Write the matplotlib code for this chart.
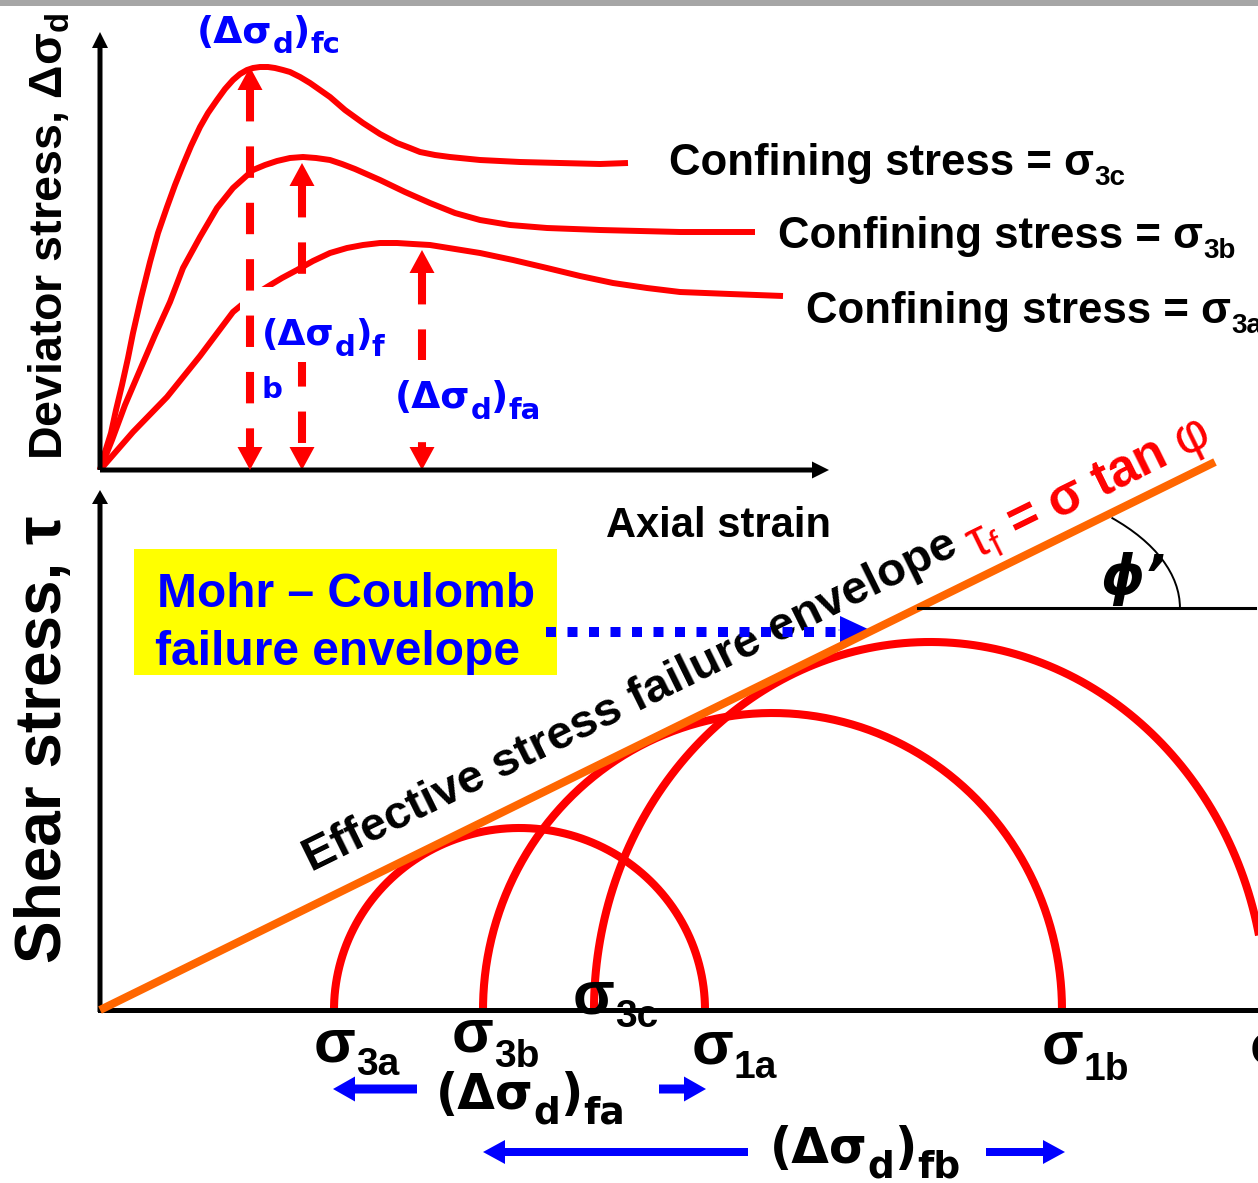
import numpy as np
import matplotlib.pyplot as plt
from matplotlib.patches import Rectangle, Arc

plt.rcParams['font.family'] = ['Liberation Sans', 'DejaVu Sans']
plt.rcParams['mathtext.fontset'] = 'custom'
plt.rcParams['mathtext.rm'] = 'Liberation Sans'
plt.rcParams['mathtext.bf'] = 'Liberation Sans:bold'
plt.rcParams['mathtext.it'] = 'Liberation Sans:italic'

RED, BLUE, ORANGE, YELLOW = '#ff0000', '#0000ff', '#ff6600', '#ffff00'

# --- stress-strain curves (picture units, y down) ---
strain_c = [100, 105, 111, 116, 122, 128, 133, 141, 150, 158, 167, 175, 183, 191, 200, 208, 217, 225, 233, 240,
            247, 253, 260, 268, 275, 283, 290, 300, 310, 320, 330, 345, 363, 380, 397, 410, 420, 435, 450, 480,
            520, 560, 600, 628]
dev_c = [470, 452, 433, 410, 385, 358, 333, 298, 262, 233, 207, 185, 165, 146, 127, 113, 100, 89, 80, 74,
         70, 68, 67, 67, 68, 70, 72, 77, 83, 90, 97, 110, 123, 134, 143, 148, 152, 155, 157, 160,
         162, 163, 164, 163]
strain_b = [100, 112, 125, 140, 155, 170, 183, 200, 217, 233, 253, 265, 277, 290, 303, 316, 330, 342, 355, 380,
            405, 430, 455, 480, 510, 547, 600, 680, 755]
dev_b = [470, 440, 405, 370, 335, 302, 268, 237, 208, 188, 170, 165, 161, 158, 157, 158, 160, 164, 169, 180,
         192, 203, 213, 220, 225, 228, 230, 232, 232]
strain_a = [100, 133, 167, 200, 233, 250, 267, 282, 297, 313, 330, 347, 363, 380, 397, 413, 430, 455, 480, 513,
            547, 580, 613, 647, 680, 730, 783]
dev_a = [470, 432, 397, 356, 312, 298, 287, 278, 270, 261, 253, 248, 245, 243, 243, 244, 245, 249, 253, 260,
         268, 276, 283, 288, 292, 294, 296]

# failure points (peak deviator stress)
peak_x = [250, 302, 422]
peak_y = [67, 163, 250]
strain_axis_y = 470

# --- Mohr circles ---
tau_axis_y = 1010
sigma3 = [334, 483, 594]
sigma1 = [705, 1062, 1266]
tau_max = [182, 297, 368]

# failure envelope
env_x = [100, 1215]
env_y = [1010, 462]

fig = plt.figure(figsize=(12.58, 11.83), dpi=100)
ax = fig.add_axes([0, 0, 1, 1])
ax.set_xlim(0, 1258)
ax.set_ylim(1183, 0)
ax.axis('off')
renderer = fig.canvas.get_renderer()


def chain(x, y, parts, **kw):
    # write text pieces one after another (for sub-scripts)
    for s, size, dy in parts:
        t = ax.text(x, y + dy, s, fontsize=size, ha='left', va='baseline', **kw)
        bb = t.get_window_extent(renderer)
        x = ax.transData.inverted().transform((bb.x1, bb.y0))[0]


# grey band on top
ax.add_patch(Rectangle((0, 0), 1258, 6, fc='#a6a6a6', ec='none'))

# ---------- top plot ----------
ax.arrow(100, strain_axis_y, 0, -438, width=5, head_width=16, head_length=16,
         length_includes_head=True, fc='black', ec='none', zorder=3)
ax.arrow(100, strain_axis_y, 729, 0, width=5, head_width=17, head_length=17,
         length_includes_head=True, fc='black', ec='none', zorder=3)

for sx, sy in [(strain_c, dev_c), (strain_b, dev_b), (strain_a, dev_a)]:
    ax.plot(sx, sy, color=RED, lw=4.3, zorder=2, solid_capstyle='butt',
            solid_joinstyle='round')

# white boxes behind the labels inside the plot
ax.add_patch(Rectangle((240, 287), 145, 75, fc='white', ec='none', zorder=3))
ax.add_patch(Rectangle((393, 360), 142, 78, fc='white', ec='none', zorder=3))

for i, (px, py) in enumerate(zip(peak_x, peak_y)):
    z = 4 if i == 0 else 2
    hl = 23
    ax.plot([px, px], [py + hl, strain_axis_y - hl], color=RED, lw=5.8,
            ls=(0, (3.9, 3.1)), dash_capstyle='butt', zorder=z)
    ax.arrow(px, py + hl, 0, -hl, width=1, head_width=25, head_length=hl,
             length_includes_head=True, fc=RED, ec='none', zorder=z)
    ax.arrow(px, strain_axis_y - hl, 0, hl, width=1, head_width=25, head_length=hl,
             length_includes_head=True, fc=RED, ec='none', zorder=z)

blue_kw = dict(color=BLUE, family=['DejaVu Sans'], fontweight='bold', zorder=5)
chain(197, 43, [('(Δσ', 27, 0), ('d', 21, 10), (')', 27, 0), ('fc', 21, 10)], **blue_kw)
chain(262, 345, [('(Δσ', 26, 0), ('d', 21, 11), (')', 26, 0), ('f', 21, 11)], **blue_kw)
ax.text(262, 398, 'b', fontsize=21, ha='left', va='baseline', **blue_kw)
chain(395, 408, [('(Δσ', 27, 0), ('d', 21, 11), (')', 27, 0), ('fa', 21, 11)], **blue_kw)

blk_kw = dict(color='black', fontweight='bold')
chain(669, 175, [('Confining stress = σ', 31.5, 0), ('3c', 20, 10)], **blk_kw)
chain(778, 248, [('Confining stress = σ', 31.5, 0), ('3b', 20, 10)], **blk_kw)
chain(806, 323, [('Confining stress = σ', 31.5, 0), ('3a', 20, 10)], **blk_kw)
ax.text(606, 537, 'Axial strain', fontsize=30, ha='left', va='baseline', **blk_kw)

ax.text(63, 460, r'Deviator stress, Δσ$_\mathbf{d}$', fontsize=33.5, rotation=90,
        rotation_mode='anchor', ha='left', va='baseline', **blk_kw)

# ---------- Mohr diagram ----------
ax.arrow(100, tau_axis_y + 2, 0, -(tau_axis_y + 2 - 490), width=5, head_width=16,
         head_length=14, length_includes_head=True, fc='black', ec='none', zorder=3)
ax.plot([100, 1258], [tau_axis_y, tau_axis_y], color='black', lw=3.6, zorder=3)

t = np.linspace(0, np.pi, 300)
for s3, s1, tm in zip(sigma3, sigma1, tau_max):
    c, rh = (s3 + s1) / 2, (s1 - s3) / 2
    ax.plot(c + rh * np.cos(t), tau_axis_y - tm * np.sin(t), color=RED, lw=5.8,
            zorder=2, solid_capstyle='butt')

ax.plot(env_x, env_y, color=ORANGE, lw=5.8, zorder=3, solid_capstyle='butt')
ang = np.degrees(np.arctan2(env_y[0] - env_y[1], env_x[1] - env_x[0]))

# phi' angle mark
x0 = env_x[0] + (env_y[0] - 608) * (env_x[1] - env_x[0]) / (env_y[0] - env_y[1])
ax.plot([x0, 1255], [608, 608], color='black', lw=2.2, zorder=3)
ax.add_patch(Arc((x0, 608), 2 * 262, 2 * 134, theta1=-25, theta2=0,
                 color='black', lw=1.4, zorder=3))
ax.text(1100, 594, 'ϕ’', fontsize=40, family=['DejaVu Sans'], fontweight='bold',
        style='italic', ha='left', va='baseline', color='black')

ax.text(312, 872, 'Effective stress failure envelope', fontsize=34, rotation=ang,
        rotation_mode='anchor', ha='left', va='baseline', zorder=4, **blk_kw)
ax.text(975, 559, r'$\mathrm{τ_f}$ = σ tan $\mathrm{φ}$', fontsize=37, rotation=ang,
        rotation_mode='anchor', ha='left', va='baseline', color=RED,
        fontweight='bold', zorder=4)

ax.text(61, 963, 'Shear stress, τ', fontsize=46, rotation=90, rotation_mode='anchor',
        ha='left', va='baseline', **blk_kw)

# yellow callout
ax.add_patch(Rectangle((134, 549), 423, 126, fc=YELLOW, ec='none', zorder=3))
ax.text(157, 607, 'Mohr – Coulomb', fontsize=34.5, ha='left', va='baseline',
        color=BLUE, fontweight='bold', zorder=4)
ax.text(155, 665, 'failure envelope', fontsize=34.5, ha='left', va='baseline',
        color=BLUE, fontweight='bold', zorder=4)
ax.plot([546, 840], [632, 632], color=BLUE, lw=7.2, ls=(0, (1, 1.15)),
        dash_capstyle='butt', zorder=4)
ax.arrow(838, 630, 32, 0, width=0.5, head_width=28, head_length=30,
         length_includes_head=True, fc=BLUE, ec='none', zorder=2)

# sigma labels on the axis
chain(314, 1062, [('σ', 44, 0), ('3a', 28, 13)], **blk_kw)
chain(452, 1052, [('σ', 44, 0), ('3b', 28, 15)], **blk_kw)
chain(573, 1013, [('σ', 44, 0), ('3c', 28, 14)], zorder=5, **blk_kw)
chain(692, 1064, [('σ', 44, 0), ('1a', 28, 14)], **blk_kw)
chain(1042, 1063, [('σ', 44, 0), ('1b', 28, 17)], **blk_kw)
chain(1250, 1063, [('σ', 44, 0), ('1c', 28, 17)], **blk_kw)

dk_kw = dict(color='black', family=['DejaVu Sans'], fontweight='bold')
chain(436, 1109, [('(Δσ', 35, 0), ('d', 27, 14), (')', 35, 0), ('fa', 27, 14)], **dk_kw)
chain(770, 1163, [('(Δσ', 35, 0), ('d', 27, 14), (')', 35, 0), ('fb', 27, 14)], **dk_kw)

# blue block arrows for the circle diameters
ax.arrow(417, 1089, -84, 0, width=9, head_width=25, head_length=22,
         length_includes_head=True, fc=BLUE, ec='none')
ax.arrow(659, 1089, 47, 0, width=9, head_width=25, head_length=22,
         length_includes_head=True, fc=BLUE, ec='none')
ax.arrow(748, 1152, -265, 0, width=8, head_width=24, head_length=22,
         length_includes_head=True, fc=BLUE, ec='none')
ax.arrow(986, 1152, 79, 0, width=8, head_width=24, head_length=22,
         length_includes_head=True, fc=BLUE, ec='none')

fig.savefig('out.png', dpi=100)
